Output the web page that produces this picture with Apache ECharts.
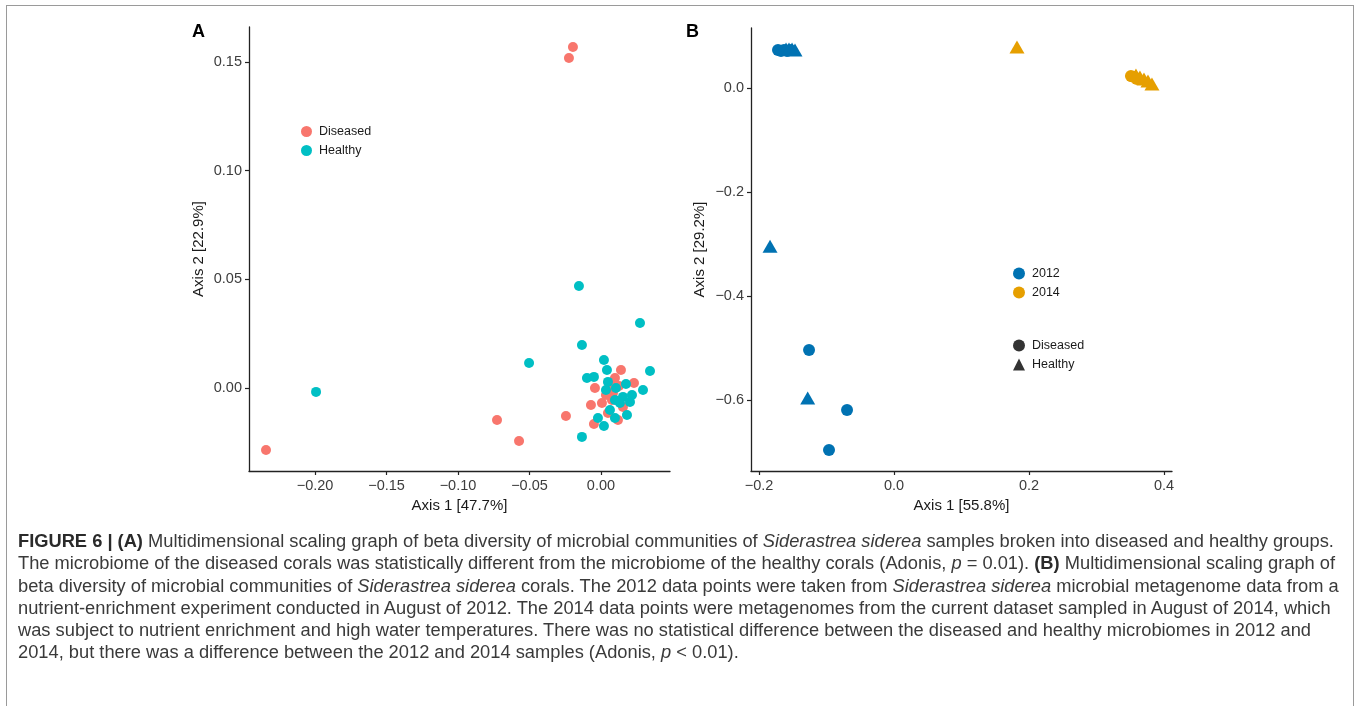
<!DOCTYPE html>
<html>
<head>
<meta charset="utf-8">
<script src="https://cdn.jsdelivr.net/npm/echarts@6/dist/echarts.min.js"></script>
<style>
  html, body { margin: 0; padding: 0; background: #fff; }
  .frame {
    position: absolute; left: 6px; top: 5px; width: 1348px; height: 720px;
    border: 1.5px solid #9a9a9a; border-bottom: none; box-sizing: border-box;
  }
  #chart { position: absolute; left: 0; top: 0; width: 1357px; height: 706px; }
  .caption {
    position: absolute; left: 18px; top: 530px; width: 1340px;
    font-family: 'Liberation Sans', Arial, sans-serif; font-size: 18.3px;
    line-height: 22.3px; color: #3a3a3a; white-space: nowrap;
  }
  .caption b { color: #2a2a2a; }
</style>
</head>
<body>
<div class="frame"></div>
<div id="chart"></div>
<div class="caption">
  <b>FIGURE 6 | (A)</b> Multidimensional scaling graph of beta diversity of microbial communities of <i>Siderastrea siderea</i> samples broken into diseased and healthy groups.<br>
  The microbiome of the diseased corals was statistically different from the microbiome of the healthy corals (Adonis, <i>p</i> = 0.01). <b>(B)</b> Multidimensional scaling graph of<br>
  beta diversity of microbial communities of <i>Siderastrea siderea</i> corals. The 2012 data points were taken from <i>Siderastrea siderea</i> microbial metagenome data from a<br>
  nutrient-enrichment experiment conducted in August of 2012. The 2014 data points were metagenomes from the current dataset sampled in August of 2014, which<br>
  was subject to nutrient enrichment and high water temperatures. There was no statistical difference between the diseased and healthy microbiomes in 2012 and<br>
  2014, but there was a difference between the 2012 and 2014 samples (Adonis, <i>p</i> &lt; 0.01).
</div>
<script>
// panel A: MDS coordinates [axis1, axis2]
const diseasedA = [
  [-0.2343, -0.0285], [-0.0196, 0.1569], [-0.0224, 0.1518], [-0.0727, -0.0147],
  [-0.0573, -0.0244], [-0.0245, -0.0129], [0.0140, 0.0083], [0.0231, 0.0023],
  [-0.0042, 0.0000], [-0.0070, -0.0078], [-0.0049, -0.0166], [0.0007, -0.0069],
  [0.0098, 0.0046], [0.0154, -0.0087], [0.0049, -0.0115], [0.0119, -0.0147],
  [0.0084, -0.0023], [0.0077, -0.0055], [0.0126, 0.0009], [0.0035, -0.0032],
  [0.0070, 0.0014]
]
const healthyA = [
  [-0.1993, -0.0018], [-0.0154, 0.0469], [0.0273, 0.0299], [-0.0503, 0.0115],
  [-0.0133, 0.0198], [-0.0133, -0.0225], [0.0343, 0.0078], [0.0021, 0.0129],
  [0.0042, 0.0083], [-0.0098, 0.0046], [-0.0049, 0.0051], [0.0049, 0.0028],
  [0.0035, -0.0009], [0.0105, 0.0000], [0.0175, 0.0018], [0.0294, -0.0009],
  [0.0154, -0.0041], [0.0217, -0.0032], [0.0203, -0.0064], [0.0098, -0.0055],
  [0.0133, -0.0069], [0.0182, -0.0124], [0.0098, -0.0138], [-0.0021, -0.0138],
  [0.0021, -0.0175], [0.0063, -0.0101]
]

// panel B: by year and health state
const diseased2012 = [
  [-0.1719, 0.0731], [-0.1674, 0.0712], [-0.1630, 0.0731], [-0.1585, 0.0712],
  [-0.1541, 0.0731], [-0.1259, -0.5038], [-0.0696, -0.6192], [-0.0963, -0.6961]
]
const healthy2012 = [
  [-0.1600, 0.0750], [-0.1556, 0.0750], [-0.1511, 0.0750], [-0.1467, 0.0731],
  [-0.1837, -0.3045], [-0.1279, -0.5961]
]
const diseased2014 = [
  [0.3511, 0.0231], [0.3556, 0.0212], [0.3600, 0.0173]
]
const healthy2014 = [
  [0.1822, 0.0788], [0.3585, 0.0250], [0.3644, 0.0212], [0.3704, 0.0173],
  [0.3763, 0.0135], [0.3822, 0.0077]
]

const xTicksA = [-0.20, -0.15, -0.10, -0.05, 0.00]
const yTicksA = [0.00, 0.05, 0.10, 0.15]
const xTicksB = [-0.2, 0.0, 0.2, 0.4]
const yTicksB = [-0.6, -0.4, -0.2, 0.0]

const colors = { Diseased: '#F8766D', Healthy: '#00BFC4', y2012: '#0072B2', y2014: '#E69F00' }

const fmt = d => v => (v < 0 ? '\u2212' : '') + Math.abs(v).toFixed(d)

const axisBase = (ticks, digits, name, gap) => ({
  type: 'value',
  name,
  nameLocation: 'middle',
  nameGap: gap,
  nameTextStyle: { fontSize: 15, color: '#1a1a1a' },
  axisLine: { show: true, onZero: false, lineStyle: { color: '#222', width: 1.3 } },
  axisTick: { show: true, length: 4, customValues: ticks, lineStyle: { color: '#222', width: 1.2 } },
  axisLabel: { customValues: ticks, formatter: fmt(digits), fontSize: 14.5, color: '#3d3d3d', margin: 7 },
  splitLine: { show: false }
})

const legendBase = {
  orient: 'vertical', padding: 0, itemGap: 6, selectedMode: false,
  textStyle: { fontSize: 12.5, color: '#1a1a1a', padding: [0, 0, 0, 2] }
}

const chart = echarts.init(document.getElementById('chart'))

const triSize = [15, 13]

chart.setOption({
  animation: false,
  textStyle: { fontFamily: "'Liberation Sans', Arial, sans-serif" },
  title: [
    { text: 'A', left: 192, top: 23, padding: 0, textStyle: { fontSize: 18, fontWeight: 'bold', color: '#000' } },
    { text: 'B', left: 686, top: 23, padding: 0, textStyle: { fontSize: 18, fontWeight: 'bold', color: '#000' } }
  ],
  grid: [
    { left: 249, top: 27, width: 421, height: 444 },
    { left: 751, top: 28, width: 421, height: 443 }
  ],
  xAxis: [
    Object.assign(axisBase(xTicksA, 2, 'Axis 1 [47.7%]', 26), { gridIndex: 0, min: -0.2462, max: 0.0483 }),
    Object.assign(axisBase(xTicksB, 1, 'Axis 1 [55.8%]', 26), { gridIndex: 1, min: -0.2119, max: 0.4119 })
  ],
  yAxis: [
    Object.assign(axisBase(yTicksA, 2, 'Axis 2 [22.9%]', 43), { gridIndex: 0, min: -0.0382, max: 0.1661 }),
    Object.assign(axisBase(yTicksB, 1, 'Axis 2 [29.2%]', 44), { gridIndex: 1, min: -0.7365, max: 0.1154 })
  ],
  legend: [
    Object.assign({}, legendBase, {
      data: [{ name: 'Diseased', icon: 'circle' }, { name: 'Healthy', icon: 'circle' }],
      left: 301, top: 125, itemWidth: 11, itemHeight: 11
    }),
    Object.assign({}, legendBase, {
      data: [{ name: '2012', icon: 'circle' }, { name: '2014', icon: 'circle' }],
      left: 1013, top: 267, itemWidth: 12, itemHeight: 12
    }),
    Object.assign({}, legendBase, {
      data: [{ name: 'Diseased ', icon: 'circle' }, { name: 'Healthy ', icon: 'triangle' }],
      formatter: n => n.trim(),
      left: 1013, top: 339, itemWidth: 12, itemHeight: 12
    })
  ],
  series: [
    { name: 'Diseased', type: 'scatter', xAxisIndex: 0, yAxisIndex: 0, data: diseasedA,
      symbol: 'circle', symbolSize: 10, itemStyle: { color: colors.Diseased, opacity: 1 } },
    { name: 'Healthy', type: 'scatter', xAxisIndex: 0, yAxisIndex: 0, data: healthyA,
      symbol: 'circle', symbolSize: 10, itemStyle: { color: colors.Healthy, opacity: 1 } },

    { name: '2012', type: 'scatter', xAxisIndex: 1, yAxisIndex: 1, data: diseased2012,
      symbol: 'circle', symbolSize: 12, itemStyle: { color: colors.y2012, opacity: 1 } },
    { name: '2012', type: 'scatter', xAxisIndex: 1, yAxisIndex: 1, data: healthy2012,
      symbol: 'triangle', symbolSize: triSize, itemStyle: { color: colors.y2012, opacity: 1 } },
    { name: '2014', type: 'scatter', xAxisIndex: 1, yAxisIndex: 1, data: diseased2014,
      symbol: 'circle', symbolSize: 12, itemStyle: { color: colors.y2014, opacity: 1 } },
    { name: '2014', type: 'scatter', xAxisIndex: 1, yAxisIndex: 1, data: healthy2014,
      symbol: 'triangle', symbolSize: triSize, itemStyle: { color: colors.y2014, opacity: 1 } },

    // shape-only legend keys for panel B
    { name: 'Diseased ', type: 'scatter', xAxisIndex: 1, yAxisIndex: 1, data: [],
      symbol: 'circle', itemStyle: { color: '#000' } },
    { name: 'Healthy ', type: 'scatter', xAxisIndex: 1, yAxisIndex: 1, data: [],
      symbol: 'triangle', itemStyle: { color: '#000' } }
  ]
})
</script>
</body>
</html>
